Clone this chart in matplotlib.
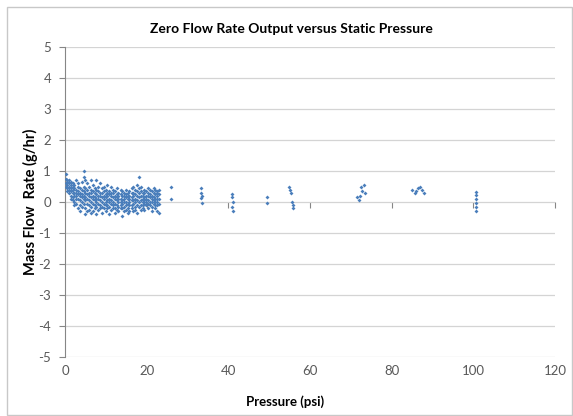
import matplotlib
matplotlib.use("Agg")
import matplotlib.pyplot as plt
from matplotlib.patches import Rectangle

# ==============
# data
# ==============
# dense low-pressure region: pressure column -> flow readings
low_pressure = [0.2, 0.6, 1.0, 1.4, 1.9, 2.3, 2.8, 3.2, 3.7, 4.1, 4.6, 5.0,
                5.5, 5.9, 6.4, 6.8, 7.3, 7.7, 8.2, 8.6, 9.1, 9.5, 10.0, 10.4,
                10.9, 11.3, 11.8, 12.2, 12.7, 13.1, 13.6, 14.0, 14.5, 14.9,
                15.4, 15.8, 16.3, 16.7, 17.2, 17.6, 18.1, 18.5, 19.0, 19.4,
                19.9, 20.3, 20.8, 21.2, 21.7, 22.1, 22.6, 23.0]
low_flow = [
    [0.9, 0.75, 0.6, 0.5],
    [0.7, 0.65, 0.55, 0.45, 0.35],
    [0.7, 0.6, 0.5, 0.4, 0.3],
    [0.65, 0.55, 0.45, 0.35, 0.2, 0.1],
    [0.6, 0.5, 0.4, 0.3, 0.15, 0.05],
    [0.55, 0.45, 0.3, 0.2, 0.0, -0.1],
    [0.7, 0.4, 0.3, 0.2, 0.1, -0.05],
    [0.6, 0.5, 0.35, 0.25, 0.1, -0.2],
    [0.45, 0.3, 0.2, 0.05, -0.1, -0.3],
    [0.65, 0.4, 0.25, 0.15, 0.0, -0.15],
    [1.0, 0.8, 0.5, 0.35, 0.2, 0.1, -0.05],
    [0.7, 0.45, 0.3, 0.15, 0.05, -0.2, -0.4],
    [0.6, 0.4, 0.25, 0.1, -0.05, -0.3],
    [0.5, 0.3, 0.2, 0.05, -0.1, -0.25],
    [0.7, 0.4, 0.3, 0.15, 0.0, -0.15, -0.35],
    [0.55, 0.35, 0.2, 0.1, -0.05, -0.3],
    [0.45, 0.3, 0.15, 0.05, -0.1, -0.2],
    [0.7, 0.4, 0.25, 0.1, 0.0, -0.15, -0.4],
    [0.5, 0.35, 0.2, 0.1, -0.05, -0.25],
    [0.6, 0.3, 0.2, 0.05, -0.1, -0.2],
    [0.45, 0.3, 0.15, 0.0, -0.15, -0.35],
    [0.5, 0.35, 0.2, 0.1, -0.05, -0.2],
    [0.4, 0.25, 0.15, 0.0, -0.1, -0.3],
    [0.55, 0.3, 0.2, 0.05, -0.1, -0.2],
    [0.35, 0.25, 0.1, 0.0, -0.15, -0.4],
    [0.5, 0.3, 0.2, 0.05, -0.05, -0.25],
    [0.4, 0.3, 0.15, 0.0, -0.1, -0.2],
    [0.35, 0.2, 0.1, -0.05, -0.2, -0.35],
    [0.45, 0.25, 0.15, 0.05, -0.1, -0.25],
    [0.3, 0.2, 0.1, 0.0, -0.15, -0.3],
    [0.4, 0.25, 0.1, 0.0, -0.1, -0.2],
    [0.35, 0.2, 0.05, -0.05, -0.2, -0.45],
    [0.3, 0.2, 0.1, 0.0, -0.15, -0.3],
    [0.4, 0.25, 0.15, 0.0, -0.1, -0.25],
    [0.3, 0.2, 0.1, -0.05, -0.2, -0.35],
    [0.35, 0.2, 0.1, 0.0, -0.1, -0.3],
    [0.45, 0.3, 0.15, 0.05, -0.1, -0.2],
    [0.5, 0.3, 0.2, 0.05, -0.05, -0.3],
    [0.4, 0.25, 0.1, 0.0, -0.15, -0.25],
    [0.55, 0.35, 0.2, 0.05, -0.1, -0.35],
    [0.8, 0.45, 0.3, 0.15, 0.0, -0.15],
    [0.5, 0.35, 0.2, 0.05, -0.1, -0.25],
    [0.3, 0.2, 0.1, 0.0, -0.1, -0.2],
    [0.4, 0.3, 0.15, 0.05, -0.05, -0.25],
    [0.35, 0.2, 0.1, 0.0, -0.1],
    [0.45, 0.3, 0.2, 0.05, -0.05, -0.2],
    [0.4, 0.25, 0.15, 0.0, -0.1],
    [0.35, 0.2, 0.1, 0.0, -0.15, -0.3],
    [0.45, 0.3, 0.15, 0.05, -0.05],
    [0.4, 0.25, 0.1, 0.0, -0.1, -0.2],
    [0.35, 0.3, 0.2, 0.1, 0.0, -0.1, -0.3],
    [0.4, 0.25, 0.1, -0.05, -0.35],
]

# sparse higher-pressure points
high_pressure = [25.9, 25.9,
                 33.4, 33.4, 33.5, 33.4, 33.5,
                 41.0, 41.0, 41.1, 41.0, 41.1,
                 49.4, 49.5,
                 54.8, 55.1, 55.4, 55.6, 55.8, 55.9,
                 71.6, 72.0, 72.3, 72.5, 72.8, 73.2, 73.5,
                 85.0, 85.6, 86.0, 86.5, 87.0, 87.5, 88.0,
                 100.6, 100.7, 100.6, 100.7, 100.6, 100.7]
high_flow = [0.5, 0.1,
             0.45, 0.3, 0.2, 0.13, -0.03,
             0.26, 0.16, 0.0, -0.15, -0.3,
             0.15, -0.03,
             0.5, 0.4, 0.3, 0.0, -0.1, -0.2,
             0.15, 0.05, 0.2, 0.5, 0.35, 0.55, 0.3,
             0.4, 0.3, 0.35, 0.45, 0.5, 0.4, 0.3,
             0.32, 0.22, 0.1, -0.03, -0.15, -0.28]

x_ticks = [0, 20, 40, 60, 80, 100, 120]
y_ticks = [-5, -4, -3, -2, -1, 0, 1, 2, 3, 4, 5]


def main():
    plt.rcParams["font.family"] = ["Lato", "DejaVu Sans"]
    plt.rcParams["axes.unicode_minus"] = False

    fig = plt.figure(figsize=(5.73, 4.16), dpi=100)
    ax = fig.add_axes([0.1134, 0.1418, 0.8552, 0.7452])

    # chart border
    fig.patches.append(Rectangle((0.012, 0.002), 0.986, 0.981,
                                 transform=fig.transFigure, fill=False,
                                 edgecolor="#c8c8c8", linewidth=1.0))

    xs = [p for p, col in zip(low_pressure, low_flow) for _ in col] + high_pressure
    ys = [v for col in low_flow for v in col] + high_flow
    ax.scatter(xs, ys, marker="D", s=4, color="#4a7ebb", linewidths=0, zorder=3)

    ax.set_xlim(0, 120)
    ax.set_ylim(-5, 5)
    ax.set_xticks(x_ticks)
    ax.set_yticks(y_ticks)
    ax.grid(axis="y", color="#d4d4d4", linewidth=0.9)
    ax.set_axisbelow(True)

    for side in ["top", "right", "bottom"]:
        ax.spines[side].set_visible(False)
    ax.spines["left"].set_color("#868686")
    ax.tick_params(axis="y", length=4, color="#868686", labelcolor="#595959",
                   labelsize=9.5, pad=6)
    ax.tick_params(axis="x", length=0, labelcolor="#595959", labelsize=9.5, pad=6)

    # x axis line crosses at zero
    sec = ax.secondary_xaxis(0.5)
    sec.set_xticks(x_ticks)
    sec.tick_params(axis="x", direction="out", length=4, color="#868686",
                    labelbottom=False, labeltop=False)
    sec.spines["bottom"].set_color("#868686")
    sec.spines["top"].set_visible(False)
    sec.xaxis.set_ticks_position("bottom")
    sec.xaxis.set_tick_params(labelbottom=False)

    ax.set_title("Zero Flow Rate Output versus Static Pressure",
                 fontsize=10, fontweight="bold", pad=10, x=0.463)
    ax.set_xlabel("Pressure (psi)", fontsize=9.5, fontweight="bold")
    ax.xaxis.set_label_coords(0.449, -0.125)
    ax.set_ylabel("Mass Flow  Rate (g/hr)", fontsize=10.5, fontweight="bold")
    ax.yaxis.set_label_coords(-0.055, 0.5)

    fig.savefig("out.png", dpi=100)
    plt.close(fig)


if __name__ == "__main__":
    main()
